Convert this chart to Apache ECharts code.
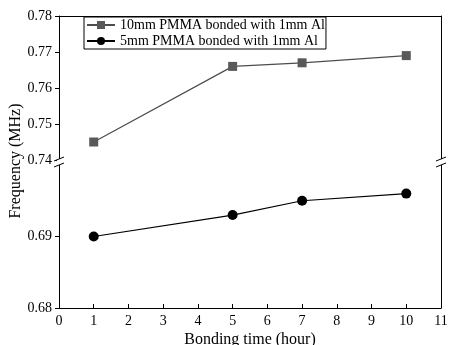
<!DOCTYPE html>
<html><head><meta charset="utf-8">
<script src="https://cdn.jsdelivr.net/npm/echarts@6/dist/echarts.min.js"></script>
<style>html,body{margin:0;padding:0;background:#fff}#c{width:449px;height:345px}</style>
</head><body><div id="c"></div>
<script>
const hours = [1, 5, 7, 10];
const pmma10 = [0.745, 0.766, 0.767, 0.769];
const pmma5 = [0.690, 0.693, 0.695, 0.696];
const seriesNames = ['10mm PMMA bonded with 1mm Al', '5mm PMMA bonded with 1mm Al'];
const xTitle = 'Bonding time (hour)';
const yTitle = 'Frequency (MHz)';

const FONT = '"Liberation Serif", "Times New Roman", serif';
const chart = echarts.init(document.getElementById('c'));
const G1 = {left: 59, right: 8, top: 16, height: 144, outerBoundsMode: 'none', containLabel: false};
const G2 = {left: 59, right: 8, top: 165, bottom: 37, outerBoundsMode: 'none', containLabel: false};
const lab = {color: '#000', fontFamily: FONT, fontSize: 14};
const line = {show: true, lineStyle: {color: '#000', width: 1}};
function yAx(gi, min, max, hideMax) {
  return {type: 'value', gridIndex: gi, min: min, max: max, interval: 0.01,
    axisLine: line, axisTick: {show: true, inside: false, length: 4, lineStyle: {color: '#000'}},
    axisLabel: Object.assign({}, lab, {margin: 7, showMaxLabel: !hideMax, formatter: v => v.toFixed(2)}),
    splitLine: {show: false}};
}
function yRight(gi, min, max) {
  return {type: 'value', gridIndex: gi, min: min, max: max, position: 'right',
    axisLine: line, axisTick: {show: false}, axisLabel: {show: false}, splitLine: {show: false}};
}
const pts1 = hours.map((h, i) => [h, pmma10[i]]);
const pts2 = hours.map((h, i) => [h, pmma5[i]]);
function brk(x, y) {
  return [
    {type: 'rect', shape: {x: x - 2, y: y - 3, width: 4, height: 6}, style: {fill: '#fff'}, z: 100},
    {type: 'line', shape: {x1: x - 5, y1: y - 1, x2: x + 5, y2: y - 5}, style: {stroke: '#000', lineWidth: 1}, z: 101},
    {type: 'line', shape: {x1: x - 5, y1: y + 5, x2: x + 5, y2: y + 1}, style: {stroke: '#000', lineWidth: 1}, z: 101}
  ];
}
chart.setOption({
  animation: false,
  backgroundColor: '#fff',
  grid: [G1, G2],
  xAxis: [
    {type: 'value', gridIndex: 0, min: 0, max: 11, interval: 1, position: 'top',
     axisLine: line, axisTick: {show: false}, axisLabel: {show: false}, splitLine: {show: false}},
    {type: 'value', gridIndex: 1, min: 0, max: 11, interval: 1, position: 'bottom',
     axisLine: line, axisTick: {show: true, inside: true, length: 4, lineStyle: {color: '#000'}},
     axisLabel: Object.assign({}, lab, {margin: 6}), splitLine: {show: false},
     name: xTitle, nameLocation: 'middle', nameGap: 24,
     nameTextStyle: {color: '#000', fontFamily: FONT, fontSize: 16}}
  ],
  yAxis: [yAx(0, 0.74, 0.78, false), yAx(1, 0.68, 0.70, true), yRight(0, 0.74, 0.78), yRight(1, 0.68, 0.70)],
  legend: {
    left: 84, top: 17, orient: 'vertical', itemGap: 2, itemWidth: 28, itemHeight: 10,
    padding: [1, 1, 1, 2], borderColor: '#000', borderWidth: 1,
    textStyle: {color: '#000', fontFamily: FONT, fontSize: 14},
    data: seriesNames
  },
  series: [
    {name: seriesNames[0], type: 'line', xAxisIndex: 0, yAxisIndex: 0, data: pts1,
     symbol: 'rect', symbolSize: 9, itemStyle: {color: '#595959'},
     lineStyle: {color: '#4d4d4d', width: 1.2}},
    {name: seriesNames[1], type: 'line', xAxisIndex: 1, yAxisIndex: 1, data: pts2,
     symbol: 'circle', symbolSize: 10, itemStyle: {color: '#000'},
     lineStyle: {color: '#000', width: 1.2}}
  ],
  graphic: [
    {type: 'text', x: 16, y: 161, rotation: Math.PI / 2, z: 50,
     style: {text: yTitle, fill: '#000', font: '16px ' + FONT, align: 'center', verticalAlign: 'middle'}}
  ].concat(brk(59, 162), brk(441, 162))
});
</script></body></html>
